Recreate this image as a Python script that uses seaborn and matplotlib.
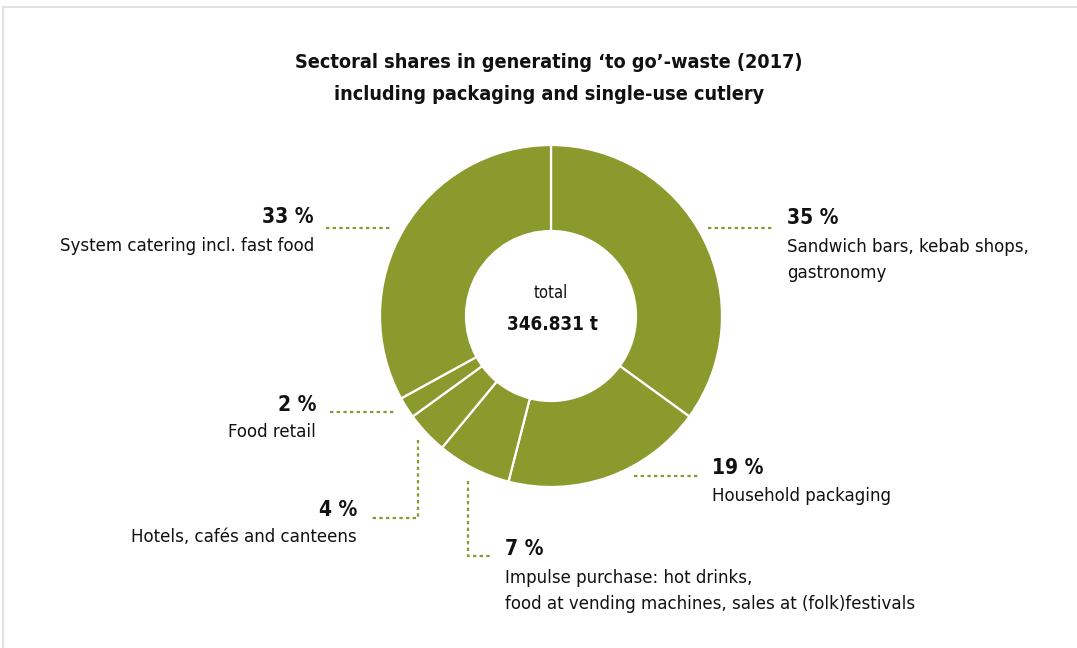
import matplotlib
matplotlib.use("Agg")
import matplotlib.pyplot as plt
import seaborn as sns

# data (clockwise from top)
sectors = ["Sandwich bars, kebab shops,\ngastronomy", "Household packaging",
           "Impulse purchase: hot drinks,\nfood at vending machines, sales at (folk)festivals",
           "Hotels, cafés and canteens", "Food retail", "System catering incl. fast food"]
shares = [35, 19, 7, 4, 2, 33]
total_label = "346.831 t"

olive = "#8a9a2d"
W, H = 1077, 648

sns.set_theme(style="white")
plt.rcParams['font.family'] = ['DejaVu Sans']
plt.rcParams['text.color'] = '#111111'

fig = plt.figure(figsize=(W / 100, H / 100), dpi=100)
ax = fig.add_axes([0, 0, 1, 1])


def Y(y):
    return H - y


ax.pie(shares, colors=[olive] * len(shares), startangle=90, counterclock=False,
       center=(551, Y(316)), radius=171,
       wedgeprops=dict(width=86, edgecolor="white", linewidth=1.6))
ax.set_xlim(0, W)
ax.set_ylim(0, H)
ax.set_aspect("equal")
ax.axis("off")

# frame
ax.plot([3, W], [Y(7), Y(7)], color="#e2e2e2", lw=1.5)
ax.plot([3, 3], [Y(7), 0], color="#e2e2e2", lw=1.5)

kw_t = dict(fontsize=14.2, fontweight="bold", ha="center", va="center", fontstretch="condensed")
ax.text(549, Y(63), "Sectoral shares in generating \u2018to go\u2019-waste (2017)", **kw_t)
ax.text(549, Y(95), "including packaging and single-use cutlery", **kw_t)

ax.text(551, Y(293), "total", fontsize=12, fontweight="medium", ha="center", va="center",
        fontstretch="condensed")
ax.text(552, Y(324), total_label, fontsize=13.5, fontweight="bold", ha="center", va="center",
        fontstretch="condensed")

dots = dict(color=olive, lw=1.6, linestyle=(0, (1.5, 1.5)))
pk = dict(fontsize=15, fontweight="bold", va="center", fontstretch="condensed")
lk = dict(fontsize=13.3, va="center", fontstretch="condensed", linespacing=1.6)

# label anchors: (pct x, pct y, label y, ha)
anchors = [(787, 218, 260, "left"), (712, 468, 496, "left"), (505, 549, 591, "left"),
           (357, 510, 537, "right"), (316, 405, 432, "right"), (314, 217, 246, "right")]
for s, v, (x, yp, yl, ha) in zip(sectors, shares, anchors):
    ax.text(x, Y(yp), f"{v} %", ha=ha, **pk)
    ax.text(x, Y(yl), s, ha=ha, **lk)

# leader lines
ax.plot([708, 773], [Y(228), Y(228)], **dots)
ax.plot([634, 700], [Y(476), Y(476)], **dots)
ax.plot([468, 468, 493], [Y(481), Y(556), Y(556)], **dots)
ax.plot([418, 418, 372], [Y(440), Y(518), Y(518)], **dots)
ax.plot([330, 395], [Y(412), Y(412)], **dots)
ax.plot([326, 390], [Y(228), Y(228)], **dots)

fig.savefig("out.png", dpi=100, facecolor="white")
